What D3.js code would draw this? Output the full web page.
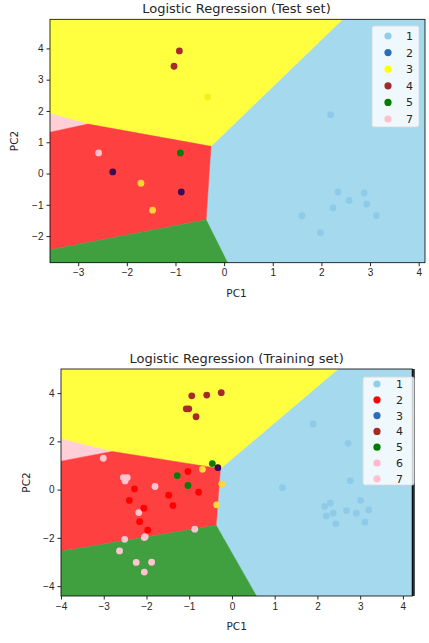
<!DOCTYPE html>
<html>
<head>
<meta charset="utf-8">
<script src="https://cdn.jsdelivr.net/npm/d3@7"></script>
<style>
  body { margin: 0; background: #fff; }
  svg { display: block; font-family: "DejaVu Sans", sans-serif; }
  .tick text { fill: #262626; font-size: 10px; }
  .tick line { stroke: #262626; }
</style>
</head>
<body>
<svg width="429" height="643"></svg>
<script>
// decision regions of the classifier (PC1, PC2), shared by both panels
var regionYellow = [[-2.80, 1.58], [-0.27, 0.87], [4.48, 8], [-8, 8], [-8, 3.83]];
var regionPink   = [[-2.80, 1.58], [-8, 3.83], [-8, -0.15]];
var regionRed    = [[-2.80, 1.58], [-8, -0.15], [-8, -3.75], [-0.37, -1.48], [-0.27, 0.87]];
var regionGreen  = [[-0.37, -1.48], [-8, -3.75], [-8, -8], [1.73, -8]];
var regionBlue   = [[-0.27, 0.87], [-0.37, -1.48], [1.73, -8], [8, -8], [8, 8], [4.48, 8]];

// test set points
var testSky = [[2.19, 1.88], [2.34, -0.59], [2.88, -0.62], [2.57, -0.86], [2.24, -1.10],
               [2.93, -0.98], [1.60, -1.35], [3.13, -1.35], [1.98, -1.89]];
var testBrown = [[-0.92, 3.92], [-1.03, 3.43]];
var testYellowFaint = [[-0.34, 2.45]];
var testGold = [[-1.71, -0.31], [-1.47, -1.17]];
var testPink = [[-2.58, 0.66]];
var testPurple = [[-2.29, 0.05], [-0.88, -0.59]];
var testGreen = [[-0.90, 0.66]];

// training set points
var trainSky = [[1.90, 2.72], [2.72, 1.92], [2.77, 0.37], [1.18, 0.08], [3.01, -0.45],
                [2.30, -0.56], [2.17, -0.70], [2.37, -0.98], [2.21, -1.09], [2.68, -0.87],
                [2.91, -0.98], [3.20, -0.84], [3.11, -1.35], [2.43, -1.42]];
var trainBrown = [[-0.94, 3.89], [-0.59, 3.92], [-0.25, 4.02], [-1.07, 3.35], [-1.01, 3.35], [-0.84, 3.02]];
var trainPink = [[-3.01, 1.30], [-2.54, 0.50], [-2.45, 0.50], [-2.50, 0.36], [-1.80, 0.13],
                 [-2.18, -0.95], [-2.51, -2.06], [-2.03, -1.95], [-2.05, -1.99], [-0.87, -1.64],
                 [-2.63, -2.54], [-2.24, -3.02], [-1.88, -3.01], [-2.05, -3.42]];
var trainRed = [[-2.28, 0.03], [-2.40, -0.45], [-2.06, -0.77], [-2.16, -1.33], [-1.97, -1.68],
                [-1.48, -0.23], [-1.38, -0.66], [-1.03, 0.75], [-0.78, -0.11]];
var trainGreen = [[-1.28, 0.58], [-1.03, 0.17], [-0.46, 1.08]];
var trainPurple = [[-0.33, 0.91]];
var trainGold = [[-0.69, 0.84], [-0.24, 0.24], [-0.36, -0.63]];

var testLegendLabels = ["1", "2", "3", "4", "5", "7"];
var testLegendColors = ["#8fcfea", "#2a6fb5", "#ffff00", "#a52a2a", "#007d00", "#ffc0cb"];
var trainLegendLabels = ["1", "2", "3", "4", "5", "6", "7"];
var trainLegendColors = ["#8fcfea", "#ff0000", "#2a6fb5", "#a52a2a", "#007d00", "#ffb8cc", "#ffc0cf"];

var svg = d3.select("svg");

function drawPanel(cfg) {
  var x = d3.scaleLinear().domain(cfg.xDomain).range([cfg.left, cfg.right]);
  var y = d3.scaleLinear().domain(cfg.yDomain).range([cfg.bottom, cfg.top]);
  var g = svg.append("g");

  g.append("clipPath").attr("id", cfg.id + "-clip")
    .append("rect")
      .attr("x", cfg.left).attr("y", cfg.top)
      .attr("width", cfg.right - cfg.left).attr("height", cfg.bottom - cfg.top);

  var plot = g.append("g").attr("clip-path", "url(#" + cfg.id + "-clip)");
  var line = d3.line().x(function(d) { return x(d[0]); }).y(function(d) { return y(d[1]); });

  var regions = [
    [regionBlue, "#a5d9ee"], [regionYellow, "#ffff40"], [regionPink, "#ffcfd8"],
    [regionRed, "#ff4040"], [regionGreen, "#40a040"]
  ];
  regions.forEach(function(r) {
    plot.append("path").attr("d", line(r[0]) + "Z").attr("fill", r[1])
      .attr("stroke", r[1]).attr("stroke-width", 0.5);
  });

  cfg.points.forEach(function(p) {
    plot.selectAll(null).data(p[0]).enter().append("circle")
      .attr("cx", function(d) { return x(d[0]); })
      .attr("cy", function(d) { return y(d[1]); })
      .attr("r", 3.4)
      .attr("fill", p[1]);
  });

  if (cfg.darkEdge) {
    g.append("rect").attr("x", cfg.right - 0.5).attr("y", cfg.top)
      .attr("width", 3).attr("height", cfg.bottom - cfg.top).attr("fill", "#25313a");
  }

  g.append("rect")
    .attr("x", cfg.left).attr("y", cfg.top)
    .attr("width", cfg.right - cfg.left).attr("height", cfg.bottom - cfg.top)
    .attr("fill", "none").attr("stroke", "#000").attr("stroke-width", 0.8);

  g.append("g").attr("transform", "translate(0," + cfg.bottom + ")")
    .call(d3.axisBottom(x).tickValues(cfg.xTicks).tickSize(3.5).tickPadding(3)
      .tickFormat(function(d) { return d < 0 ? "\u2212" + Math.abs(d) : d; }))
    .call(function(a) { a.select(".domain").remove(); });

  g.append("g").attr("transform", "translate(" + cfg.left + ",0)")
    .call(d3.axisLeft(y).tickValues(cfg.yTicks).tickSize(3.5).tickPadding(3)
      .tickFormat(function(d) { return d < 0 ? "\u2212" + Math.abs(d) : d; }))
    .call(function(a) { a.select(".domain").remove(); });

  g.append("text").attr("x", (cfg.left + cfg.right) / 2 + cfg.titleShift).attr("y", cfg.top - 6)
    .attr("text-anchor", "middle").attr("font-size", 13).attr("fill", "#262626")
    .text(cfg.title);

  g.append("text").attr("x", (cfg.left + cfg.right) / 2 + cfg.titleShift).attr("y", cfg.bottom + 34)
    .attr("text-anchor", "middle").attr("font-size", 10.5).attr("fill", "#262626")
    .text("PC1");

  g.append("text")
    .attr("transform", "translate(" + cfg.ylabX + "," + (cfg.top + cfg.bottom) / 2 + ") rotate(-90)")
    .attr("text-anchor", "middle").attr("font-size", 10.5).attr("fill", "#262626")
    .text("PC2");

  // legend
  var lg = g.append("g");
  lg.append("rect").attr("x", cfg.legX).attr("y", cfg.legY)
    .attr("width", cfg.legW).attr("height", cfg.legH).attr("rx", 2)
    .attr("fill", "#fff").attr("fill-opacity", 0.82)
    .attr("stroke", "#d8d8d8").attr("stroke-width", 0.8);
  cfg.legLabels.forEach(function(lab, i) {
    var yy = cfg.legY + cfg.legFirst + i * cfg.legStep;
    lg.append("circle").attr("cx", cfg.legX + cfg.legMark).attr("cy", yy).attr("r", 3.6)
      .attr("fill", cfg.legColors[i]);
    lg.append("text").attr("x", cfg.legX + cfg.legText).attr("y", yy + 4)
      .attr("font-size", 11).attr("fill", "#262626").text(lab);
  });
}

drawPanel({
  id: "test", title: "Logistic Regression (Test set)", titleShift: -1,
  left: 50, right: 425, top: 19.3, bottom: 262.7,
  xDomain: [-3.58, 4.13], yDomain: [-2.85, 4.93],
  xTicks: [-3, -2, -1, 0, 1, 2, 3, 4], yTicks: [-2, -1, 0, 1, 2, 3, 4],
  ylabX: 18,
  points: [[testSky, "#8fcbe8"], [testBrown, "#a52a2a"], [testYellowFaint, "#f3f022"],
           [testGold, "#ffd23a"], [testPink, "#ffc0cb"], [testPurple, "#3b0a50"],
           [testGreen, "#0a7a0a"]],
  legX: 372, legY: 26, legW: 47, legH: 101, legFirst: 10, legStep: 16.6, legMark: 16, legText: 34,
  legLabels: testLegendLabels, legColors: testLegendColors
});

drawPanel({
  id: "train", title: "Logistic Regression (Training set)", titleShift: 0,
  left: 61, right: 412.3, top: 369, bottom: 596,
  xDomain: [-4.0, 4.22], yDomain: [-4.41, 5.0],
  xTicks: [-4, -3, -2, -1, 0, 1, 2, 3, 4], yTicks: [-4, -2, 0, 2, 4],
  ylabX: 30, darkEdge: true,
  points: [[trainSky, "#8fcbe8"], [trainBrown, "#a52a2a"], [trainPink, "#ffc4d0"],
           [trainRed, "#ff0000"], [trainGreen, "#0a7a0a"], [trainPurple, "#3b0a50"],
           [trainGold, "#ffd83a"]],
  legX: 363, legY: 377, legW: 51, legH: 108, legFirst: 7, legStep: 15.8, legMark: 14, legText: 33,
  legLabels: trainLegendLabels, legColors: trainLegendColors
});
</script>
</body>
</html>
